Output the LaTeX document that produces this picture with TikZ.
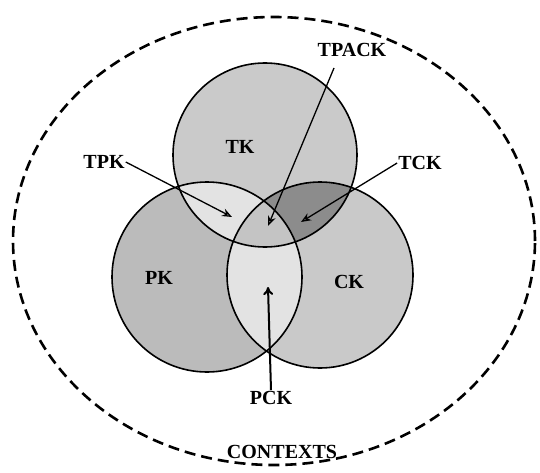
\documentclass[tikz,border=0pt]{standalone}
\usepackage{fontspec}
\setmainfont{Liberation Serif}
\usetikzlibrary{arrows.meta}
\definecolor{tkgray}{HTML}{CACACA}
\definecolor{pkgray}{HTML}{BBBBBB}
\definecolor{ckgray}{HTML}{C9C9C9}
\definecolor{lightgray}{HTML}{E3E3E3}
\definecolor{darkgray}{HTML}{8C8C8C}
\definecolor{midgray}{HTML}{C4C4C4}
\begin{document}
\begin{tikzpicture}[x=1pt, y=-1pt,
  lbl/.style={font=\fontsize{20pt}{22pt}\selectfont\bfseries, inner sep=1pt},
  ring/.style={draw=black, line width=1.6pt},
  pointer/.style={-{Stealth[open, length=10pt, width=8pt]}, line width=1.3pt},
  context/.style={dash pattern=on 11pt off 6pt, line width=2.6pt}]
\useasboundingbox (0, 0) rectangle (540, 473);

% circle regions
\fill [tkgray] (265, 155) circle [radius=92pt];
\fill [pkgray] (207, 277) circle [radius=95pt];
\fill [ckgray] (320, 275) circle [radius=93pt];
\begin{scope}
\clip (265, 155) circle [radius=92pt];
\fill [lightgray] (207, 277) circle [radius=95pt];
\fill [darkgray] (320, 275) circle [radius=93pt];
\clip (207, 277) circle [radius=95pt];
\fill [midgray] (320, 275) circle [radius=93pt];
\end{scope}
\begin{scope}
\clip (207, 277) circle [radius=95pt];
\clip (320, 275) circle [radius=93pt];
\fill [lightgray] (207, 277) circle [radius=95pt];
\clip (265, 155) circle [radius=92pt];
\fill [midgray] (265, 155) circle [radius=92pt];
\end{scope}
\draw [ring] (265, 155) circle [radius=92pt];
\draw [ring] (207, 277) circle [radius=95pt];
\draw [ring] (320, 275) circle [radius=93pt];

% outer context
\draw [context] (274, 241) ellipse [x radius=261pt, y radius=224pt];

% labels
\node (tk) at (240, 147) [lbl] {TK};
\node (pk) at (159, 278) [lbl] {PK};
\node (ck) at (349, 282) [lbl] {CK};
\node (tpk) at (104, 162) [lbl] {TPK};
\node (tck) at (420, 163) [lbl] {TCK};
\node (tpack) at (352, 50) [lbl] {TPACK};
\node (pck) at (271, 398) [lbl] {PCK};
\node (contexts) at (282, 452) [lbl] {CONTEXTS};

% arrow tips
\coordinate (tpacktail) at (334, 68);
\coordinate (tpktip) at (232, 217);
\coordinate (tcktip) at (301, 222);
\coordinate (tpacktip) at (268, 226);
\coordinate (pcktip) at (268, 287);

\draw [pointer] (tpk.east) -- (tpktip);
\draw [pointer] (tck.west) -- (tcktip);
\draw [pointer] (tpacktail) -- (tpacktip);
\draw [-{To[length=8pt, width=10pt]}, line width=2pt] (pck.north) -- (pcktip);
\end{tikzpicture}
\end{document}
